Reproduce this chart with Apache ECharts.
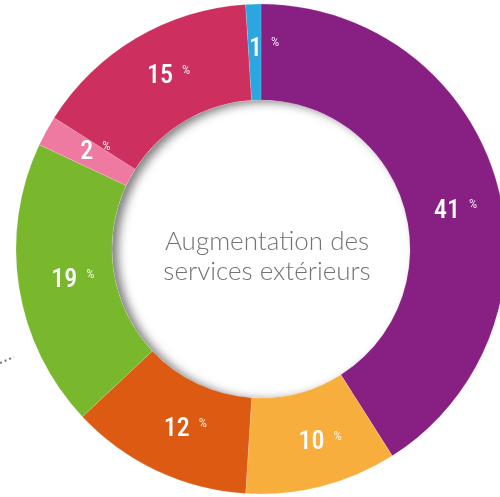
<!DOCTYPE html>
<html>
<head>
<meta charset="utf-8">
<script src="https://cdn.jsdelivr.net/npm/echarts@6/dist/echarts.min.js"></script>
<style>
  html, body { margin: 0; padding: 0; background: #fff; }
  #chart { width: 500px; height: 497px; }
</style>
</head>
<body>
<div id="chart"></div>
<script>
// Share of each component, clockwise from the top
const categories = ['A', 'B', 'C', 'D', 'E', 'F', 'G'];
const values = [41, 10, 12, 19, 2, 15, 1];
const colors = ['#881f82', '#f7ae3d', '#dc5a12', '#79b82c', '#ee7aa2', '#cd2f5e', '#2ca6df'];
const centerTitle = 'Augmentation des\nservices extérieurs';

const chart = echarts.init(document.getElementById('chart'), null, { renderer: 'canvas' });

const center = [261, 249];
const digitFont = '"Roboto Condensed", "DejaVu Sans Condensed", Roboto, sans-serif';

chart.setOption({
  animation: false,
  backgroundColor: '#ffffff',
  title: {
    text: centerTitle,
    left: 262,
    top: 252,
    textAlign: 'center',
    textVerticalAlign: 'middle',
    textStyle: {
      fontFamily: 'Lato',
      fontWeight: 300,
      fontSize: 26,
      lineHeight: 30,
      color: '#737373'
    }
  },
  graphic: [{
    type: 'polyline',
    shape: { points: [[0, 363], [14, 357]] },
    style: { stroke: '#777', lineWidth: 2, lineDash: [2, 3] }
  }],
  series: [
    {
      // ring tucked under the donut: its shadow falls into the hole
      type: 'pie',
      silent: true,
      z: 1,
      radius: [149, 170],
      center: center,
      label: { show: false },
      itemStyle: {
        color: '#ffffff',
        shadowColor: 'rgba(0,0,0,0.5)',
        shadowBlur: 10,
        shadowOffsetX: 6,
        shadowOffsetY: 2
      },
      data: [{ value: 1 }]
    },
    {
      type: 'pie',
      z: 2,
      radius: [149, 245],
      center: center,
      startAngle: 90,
      clockwise: true,
      itemStyle: { borderColor: 'rgba(255,255,255,0.3)', borderWidth: 0.5 },
      label: {
        show: true,
        position: 'inside',
        formatter: p => '{n|' + p.value + '}{p|%}',
        rich: {
          n: {
            fontFamily: digitFont,
            fontWeight: 500,
            fontSize: 26,
            color: '#ffffff',
            padding: [0, 0, 0, 19]
          },
          p: {
            fontFamily: digitFont,
            fontSize: 13,
            color: 'rgba(255,255,255,0.85)',
            padding: [0, 0, 12, 9]
          }
        }
      },
      labelLine: { show: false },
      data: categories.map((c, i) => ({
        name: c,
        value: values[i],
        itemStyle: { color: colors[i] },
        // the big slice keeps its label a little lower in the band
        label: i === 0 ? { offset: [-7, 18] } : undefined
      }))
    }
  ]
});
</script>
</body>
</html>
